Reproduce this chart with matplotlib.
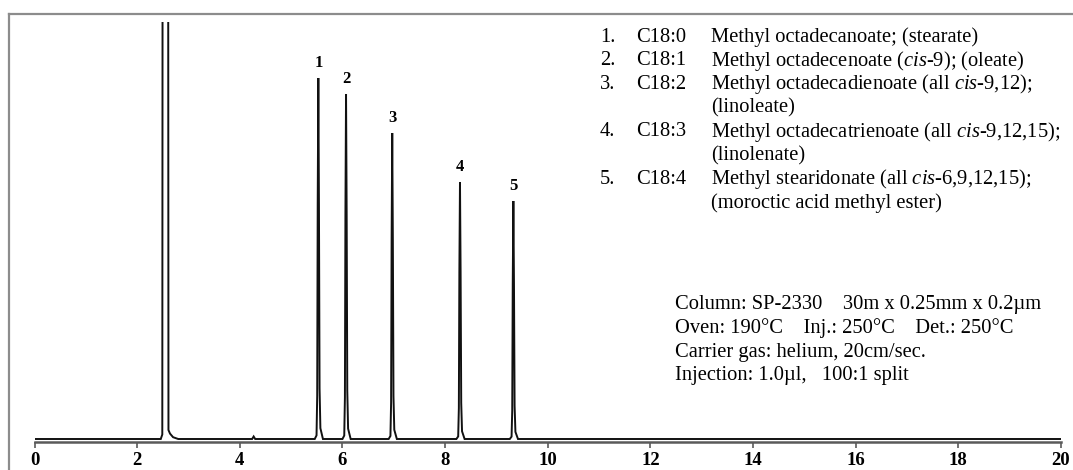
import numpy as np
import matplotlib.pyplot as plt
from matplotlib.lines import Line2D

plt.rcParams['font.family'] = ['Liberation Serif', 'DejaVu Serif']
plt.rcParams['mathtext.fontset'] = 'custom'
plt.rcParams['mathtext.rm'] = 'Liberation Serif'
plt.rcParams['mathtext.it'] = 'Liberation Serif:italic'

# peak table (time in min, height in detector units)
peak_labels = ['1', '2', '3', '4', '5']
peak_times = [5.53, 6.07, 6.97, 8.29, 9.33]
peak_heights = [361, 345, 306, 257, 238]

solvent_time = 2.55
solvent_height = 900      # off scale
small_time = 4.27
small_height = 2.5

# normalised peak shape (offset from apex in min, fraction of height)
shape_dt = [-0.07, -0.035, -0.022, -0.012, 0.0, 0.012, 0.024, 0.04, 0.09]
shape_f = [0.0, 0.01, 0.12, 0.65, 1.0, 0.65, 0.14, 0.03, 0.0]

# solvent peak outline (flat topped, clipped by the axes)
solvent_dt = [-0.09, -0.06, -0.05, 0.0, 0.05, 0.06, 0.09, 0.15, 0.25]
solvent_f = [0.0, 0.005, 1.0, 1.0, 1.0, 0.01, 0.006, 0.002, 0.0]

compounds = [
    ('1.', 'C18:0', 'Methyl octadecanoate; (stearate)'),
    ('2.', 'C18:1', r'Methyl octadecenoate ($\mathit{cis}$-9); (oleate)'),
    ('3.', 'C18:2', r'Methyl octadecadienoate (all $\mathit{cis}$-9,12);'),
    ('', '', '(linoleate)'),
    ('4.', 'C18:3', r'Methyl octadecatrienoate (all $\mathit{cis}$-9,12,15);'),
    ('', '', '(linolenate)'),
    ('5.', 'C18:4', r'Methyl stearidonate (all $\mathit{cis}$-6,9,12,15);'),
    ('', '', '(moroctic acid methyl ester)'),
]
conditions = [
    'Column: SP-2330    30m x 0.25mm x 0.2\u00b5m',
    'Oven: 190\u00b0C    Inj.: 250\u00b0C    Det.: 250\u00b0C',
    'Carrier gas: helium, 20cm/sec.',
    'Injection: 1.0\u00b5l,   100:1 split',
]

# build trace
t_pts = [0.0]
y_pts = [0.0]
for t0, h, dts, fs in [(solvent_time, solvent_height, solvent_dt, solvent_f),
                       (small_time, small_height, [-0.03, 0, 0.03], [0, 1, 0])] + \
        [(t, h, shape_dt, shape_f) for t, h in zip(peak_times, peak_heights)]:
    for d, f in zip(dts, fs):
        t_pts.append(t0 + d)
        y_pts.append(h * f)
t_pts.append(20.0)
y_pts.append(0.0)

W, H = 1073, 470
fig = plt.figure(figsize=(W / 100, H / 100), dpi=100)
ax = fig.add_axes([34.5 / W, 28 / H, (1061 - 34.5) / W, 420 / H])

ax.plot(t_pts, y_pts, color='#111111', lw=1.4, solid_joinstyle='miter')
ax.set_xlim(0, 20)
ax.set_ylim(-3, 417)

for lab, t, h in zip(peak_labels, peak_times, peak_heights):
    ax.text(t, h + 15, lab, ha='center', va='center', fontsize=12, fontweight='bold')

for s in ['top', 'right', 'left']:
    ax.spines[s].set_visible(False)
ax.spines['bottom'].set_color('#5a5a5a')
ax.spines['bottom'].set_linewidth(1.8)
ax.set_yticks([])
ax.set_xticks(range(0, 21, 2))
ax.tick_params(axis='x', direction='out', length=4, width=1.2, color='#5a5a5a',
               labelsize=13.5, pad=3)
for lbl in ax.get_xticklabels():
    lbl.set_fontweight('bold')

# legend block
fs_txt = 14.8
for i, (num, code, desc) in enumerate(compounds):
    y = 1 - (37 + 23.7 * i) / H
    fig.text(600 / W, y, num, fontsize=fs_txt, va='center')
    fig.text(636 / W, y, code, fontsize=fs_txt, va='center')
    fig.text(711 / W, y, desc, fontsize=fs_txt, va='center')

for i, line in enumerate(conditions):
    fig.text(675 / W, 1 - (305 + 23.5 * i) / H, line, fontsize=fs_txt, va='center')

# outer frame (top and left edges only)
fig.add_artist(Line2D([9 / W, 1], [1 - 14 / H, 1 - 14 / H], color='#8c8c8c', lw=1.6))
fig.add_artist(Line2D([9 / W, 9 / W], [0, 1 - 14 / H], color='#8c8c8c', lw=1.6))

fig.savefig('out.png', dpi=100)
